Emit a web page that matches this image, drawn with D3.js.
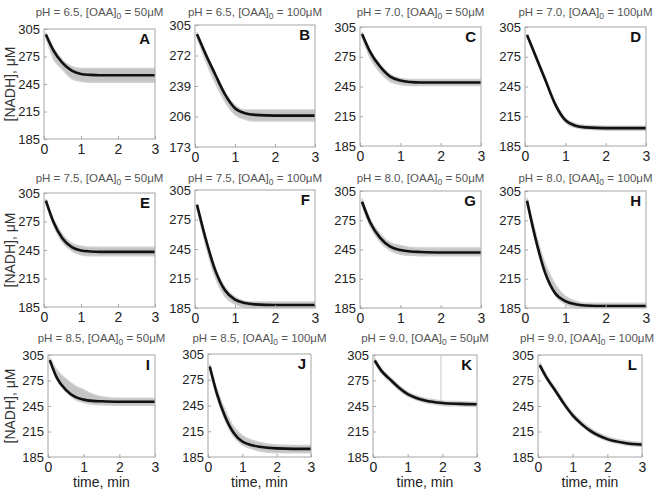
<!DOCTYPE html>
<html lang="en">
<head>
<meta charset="utf-8" />
<title>NADH time courses</title>
<script src="https://d3js.org/d3.v7.min.js"></script>
<style>
    body { margin: 0; background: #fff; }
    text { font-family: "Liberation Sans", Arial, sans-serif; }
</style>
</head>
<body>
<div id="chart"></div>
<script>
    // panel labels and conditions
    const letters = ["A", "B", "C", "D", "E", "F", "G", "H", "I", "J", "K", "L"];
    const pHs = ["6.5", "6.5", "7.0", "7.0", "7.5", "7.5", "8.0", "8.0", "8.5", "8.5", "9.0", "9.0"];
    const oaa = [50, 100, 50, 100, 50, 100, 50, 100, 50, 100, 50, 100];

    // y tick labels per panel (panel B has its own scale)
    const yTicksStd = [185, 215, 245, 275, 305];
    const yTicksB = [173, 206, 239, 272, 305];
    const xTicks = [0, 1, 2, 3];

    // sample times (min) for the fitted curve and the gray data band
    const times = [0.05, 0.25, 0.5, 0.75, 1, 1.25, 1.5, 2, 2.5, 3];

    // fitted [NADH] (black line)
    const fitA = [299, 282, 268, 259.5, 256, 255, 254.5, 254.5, 254.5, 254.5];
    const fitB = [295, 275, 252, 230, 215, 209.5, 207.8, 207, 207, 207];
    const fitC = [298, 280, 265, 255, 251, 249.5, 249, 249, 249, 249];
    const fitD = [297, 277, 252, 227, 211, 205.5, 203.8, 203, 203, 203];
    const fitE = [297, 275, 257, 248, 244.5, 243.5, 243, 243, 243, 243];
    const fitF = [290, 258, 224, 203, 193.5, 190, 188.7, 188, 188, 188];
    const fitG = [294, 273, 257, 248, 244.5, 243, 242.5, 242, 242, 242];
    const fitH = [295, 258, 221, 200, 192, 188.8, 187.6, 187, 187, 187];
    const fitI = [299, 278, 264, 256, 252.5, 251, 250.5, 250, 250, 250];
    const fitJ = [290.5, 260, 232, 213, 203, 199, 197, 195, 194.5, 194.5];
    const fitK = [298.5, 286, 276, 266.5, 259, 254.5, 251.5, 248.5, 247.5, 247];
    const fitL = [293, 278, 263, 247.5, 234, 224, 216, 206, 201.5, 199.5];

    // measured data spread (gray band): lower and upper edges
    const loA = [296, 273, 261, 251, 248, 247, 247, 247, 247, 247];
    const hiA = [301, 285, 271, 264, 262, 262, 262, 262, 262, 262];
    const loB = [292, 268, 243, 222, 208, 203, 201, 201, 201, 201];
    const hiB = [297, 277, 254, 232, 218, 213, 213, 213, 213, 213];
    const loC = [295, 274, 259, 250, 247, 246, 246, 246, 246, 246];
    const hiC = [300, 282, 267, 257, 253, 252, 252, 252, 252, 252];
    const loD = [296, 275, 250, 225, 209, 203.5, 201.8, 201, 201, 201];
    const hiD = [298, 279, 254, 229, 213, 207.5, 205.8, 205, 205, 205];
    const loE = [295, 272, 253, 244, 240, 239, 239, 239, 239, 239];
    const hiE = [299, 278, 261, 252, 249, 248, 248, 248, 248, 248];
    const loF = [287, 252, 217, 197, 189, 186, 185.5, 185.5, 185.5, 185.5];
    const hiF = [291, 260, 227, 206, 196, 192, 191, 191, 191, 191];
    const loG = [291, 269, 253, 244, 240, 239, 238.5, 238.5, 238.5, 238.5];
    const hiG = [297, 276, 261, 252, 249, 247, 246.5, 246.5, 246.5, 246.5];
    const loH = [293, 256, 219, 198, 189, 186, 185.5, 185.5, 185.5, 185.5];
    const hiH = [298, 264, 230, 209, 197, 192, 190, 190, 190, 190];
    const loI = [297, 276, 262, 253, 249, 247, 246.5, 246, 246, 246];
    const hiI = [302, 287, 277, 269, 264, 259, 256, 254, 254, 254];
    const loJ = [288, 256, 228, 209, 199, 195, 192, 190, 190, 190];
    const hiJ = [293, 265, 239, 220, 210, 205, 202, 199, 198.5, 198.5];
    const loK = [296, 283.5, 273.5, 264, 256.5, 252, 249, 246, 245, 244.5];
    const hiK = [301, 288.5, 278.5, 269, 261.5, 257, 254, 251, 250, 249.5];
    const loL = [291, 276, 261, 245.5, 232, 222, 214, 204, 199.5, 197.5];
    const hiL = [296, 281, 266, 250.5, 237, 227, 219, 209, 204, 202];

    // single outlier spike in panel K: [time, from, to]
    const spikeK = [1.96, 248, 305];

    const fits = [fitA, fitB, fitC, fitD, fitE, fitF, fitG, fitH, fitI, fitJ, fitK, fitL];
    const los = [loA, loB, loC, loD, loE, loF, loG, loH, loI, loJ, loK, loL];
    const his = [hiA, hiB, hiC, hiD, hiE, hiF, hiG, hiH, hiI, hiJ, hiK, hiL];

    // panel frames [left, top, right, bottom] in pixels, title baselines per row
    const frames = [
        [44, 29, 155, 139], [195, 25, 315, 147], [360, 27, 481, 146], [525, 27, 646, 146],
        [44, 193, 155, 307], [195, 190, 315, 308], [360, 191, 481, 308], [525, 191, 646, 308],
        [48, 355, 155, 457], [208, 354, 311, 457], [373, 355, 477, 457], [538, 355, 642, 457]
    ];
    const titleY = [16, 182, 342];
    const pageW = 656;

    const svg = d3.select("#chart").append("svg")
        .attr("width", pageW)
        .attr("height", 493);

    letters.forEach(function (letter, i) {
        const f = frames[i];
        const ticksY = letter === "B" ? yTicksB : yTicksStd;
        const x = d3.scaleLinear().domain([0, 3]).range([f[0], f[2]]);
        const y = d3.scaleLinear().domain([ticksY[0], ticksY[ticksY.length - 1]]).range([f[3], f[1]]);

        const g = svg.append("g").attr("class", "panel");

        const clipId = "clip" + letter;
        g.append("clipPath").attr("id", clipId)
            .append("rect")
            .attr("x", f[0]).attr("y", f[1])
            .attr("width", f[2] - f[0]).attr("height", f[3] - f[1]);

        const plot = g.append("g").attr("clip-path", "url(#" + clipId + ")");

        const rows = times.map(function (t, j) {
            return { t: t, fit: fits[i][j], lo: los[i][j], hi: his[i][j] };
        });

        // gray data band
        const band = d3.area()
            .x(d => x(d.t))
            .y0(d => y(d.lo))
            .y1(d => y(d.hi))
            .curve(d3.curveMonotoneX);
        plot.append("path")
            .datum(rows)
            .attr("d", band)
            .attr("fill", "#c4c4c4")
            .attr("stroke", "#d0d0d0")
            .attr("stroke-width", 1.5);

        if (letter === "K") {
            plot.append("line")
                .attr("x1", x(spikeK[0])).attr("x2", x(spikeK[0]))
                .attr("y1", y(spikeK[1])).attr("y2", y(spikeK[2]))
                .attr("stroke", "#b8b8b8")
                .attr("stroke-width", 0.8);
        }

        // fitted curve
        const line = d3.line()
            .x(d => x(d.t))
            .y(d => y(d.fit))
            .curve(d3.curveMonotoneX);
        plot.append("path")
            .datum(rows)
            .attr("d", line)
            .attr("fill", "none")
            .attr("stroke", "#111")
            .attr("stroke-width", 2.6);

        // frame
        g.append("rect")
            .attr("x", f[0]).attr("y", f[1])
            .attr("width", f[2] - f[0]).attr("height", f[3] - f[1])
            .attr("fill", "none")
            .attr("stroke", "#a6a6a6")
            .attr("stroke-width", 1);

        // axes with small inward ticks
        const xAxis = g.append("g")
            .attr("transform", "translate(0," + f[3] + ")")
            .call(d3.axisBottom(x).tickValues(xTicks).tickFormat(d3.format("d")).tickSize(-3).tickPadding(5));
        const yAxis = g.append("g")
            .attr("transform", "translate(" + f[0] + ",0)")
            .call(d3.axisLeft(y).tickValues(ticksY).tickFormat(d3.format("d")).tickSize(-3).tickPadding(4));
        [xAxis, yAxis].forEach(function (a) {
            a.select(".domain").remove();
            a.selectAll(".tick line").attr("stroke", "#a6a6a6");
            a.selectAll(".tick text")
                .attr("fill", "#222")
                .style("font-family", "'Liberation Sans', Arial, sans-serif");
        });
        xAxis.selectAll(".tick text").style("font-size", "14px");
        yAxis.selectAll(".tick text").style("font-size", "13px");

        // panel title (kept inside the page on the right edge)
        const title = g.append("text")
            .attr("x", (f[0] + f[2]) / 2)
            .attr("y", titleY[Math.floor(i / 4)])
            .attr("text-anchor", "middle")
            .attr("fill", "#555")
            .style("font-size", "11.5px");
        title.append("tspan").text("pH = " + pHs[i] + ", [OAA]");
        title.append("tspan").attr("dy", 3).style("font-size", "8.5px").text("0");
        title.append("tspan").attr("dy", -3).text(" = " + oaa[i] + "\u03bcM");
        const tb = title.node().getBBox();
        if (tb.x + tb.width > pageW - 2) {
            title.attr("x", (f[0] + f[2]) / 2 - (tb.x + tb.width - (pageW - 2)));
        }

        // panel letter
        g.append("text")
            .attr("x", f[2] - 5)
            .attr("y", f[1] + 15)
            .attr("text-anchor", "end")
            .attr("font-weight", "bold")
            .attr("fill", "#111")
            .style("font-size", "15px")
            .text(letter);

        // axis labels on the outer panels
        if (i % 4 === 0) {
            g.append("text")
                .attr("transform", "translate(15," + ((f[1] + f[3]) / 2) + ") rotate(-90)")
                .attr("text-anchor", "middle")
                .attr("fill", "#333")
                .style("font-size", "14px")
                .text("[NADH], \u03bcM");
        }
        if (i >= 8) {
            g.append("text")
                .attr("x", (f[0] + f[2]) / 2)
                .attr("y", 487)
                .attr("text-anchor", "middle")
                .attr("fill", "#222")
                .style("font-size", "14px")
                .text("time, min");
        }
    });
</script>
</body>
</html>
